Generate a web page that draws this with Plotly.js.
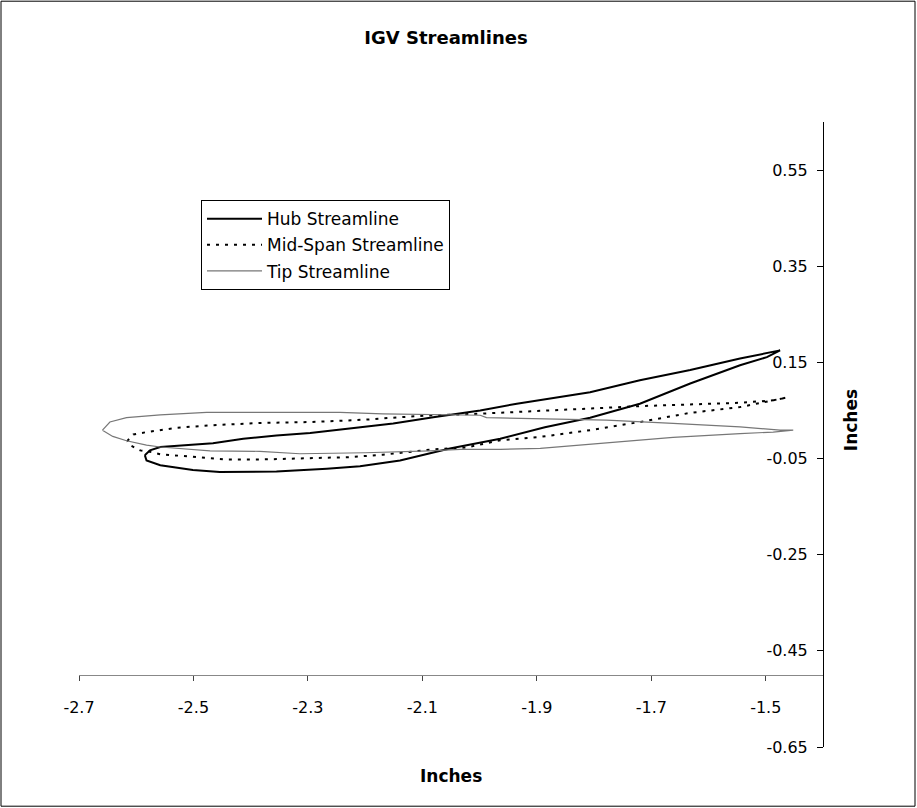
<!DOCTYPE html>
<html>
<head>
<meta charset="utf-8">
<script src="https://cdn.plot.ly/plotly-3.0.1.min.js"></script>
<style>
  html, body { margin: 0; padding: 0; background: #fff; }
  #chart { width: 917px; height: 808px; }
</style>
</head>
<body>
<div id="chart"></div>
<script>
// ---- data ----
const seriesNames = ["Hub Streamline", "Mid-Span Streamline", "Tip Streamline"];

const hubX = [-2.585, -2.576, -2.558, -2.512, -2.466, -2.413, -2.355, -2.296, -2.226, -2.151, -2.081, -1.999, -1.935, -1.877, -1.807, -1.720, -1.632, -1.545, -1.487, -1.475,
              -1.498, -1.545, -1.632, -1.720, -1.807, -1.886, -1.964, -2.052, -2.139, -2.209, -2.267, -2.355, -2.454, -2.501, -2.558, -2.582, -2.585];
const hubY = [-0.043, -0.033, -0.026, -0.022, -0.018, -0.009, -0.002, 0.003, 0.012, 0.023, 0.036, 0.050, 0.064, 0.075, 0.088, 0.113, 0.134, 0.158, 0.172, 0.175,
              0.161, 0.144, 0.106, 0.064, 0.035, 0.015, -0.009, -0.029, -0.054, -0.066, -0.071, -0.077, -0.078, -0.074, -0.064, -0.054, -0.043];

const midX = [-2.616, -2.605, -2.582, -2.529, -2.471, -2.384, -2.296, -2.197, -2.139, -2.081, -2.005, -1.964, -1.877, -1.807, -1.720, -1.632, -1.545, -1.487, -1.463,
              -1.545, -1.632, -1.720, -1.807, -1.894, -1.964, -2.023, -2.081, -2.169, -2.226, -2.314, -2.384, -2.442, -2.501, -2.558, -2.576, -2.593, -2.611, -2.616];
const midY = [-0.014, 0.000, 0.005, 0.014, 0.019, 0.024, 0.026, 0.031, 0.036, 0.040, 0.043, 0.045, 0.050, 0.054, 0.059, 0.063, 0.066, 0.071, 0.077,
              0.057, 0.045, 0.026, 0.009, -0.005, -0.012, -0.027, -0.031, -0.042, -0.047, -0.050, -0.052, -0.052, -0.047, -0.041, -0.036, -0.033, -0.022, -0.014];

const tipX = [-2.659, -2.646, -2.617, -2.558, -2.477, -2.361, -2.296, -2.244, -2.169, -2.087, -1.999, -1.988, -1.877, -1.778, -1.662, -1.545, -1.475, -1.452,
              -1.487, -1.545, -1.662, -1.778, -1.894, -1.964, -2.034, -2.087, -2.200, -2.314, -2.384, -2.471, -2.558, -2.582, -2.617, -2.641, -2.659];
const tipY = [0.009, 0.026, 0.035, 0.041, 0.046, 0.046, 0.046, 0.046, 0.043, 0.041, 0.040, 0.035, 0.033, 0.030, 0.023, 0.016, 0.009, 0.009,
              0.005, 0.002, -0.006, -0.018, -0.029, -0.031, -0.031, -0.034, -0.038, -0.040, -0.035, -0.034, -0.026, -0.022, -0.013, -0.004, 0.009];

const xTickVals = [-2.7, -2.5, -2.3, -2.1, -1.9, -1.7, -1.5];
const xTickText = ["-2.7", "-2.5", "-2.3", "-2.1", "-1.9", "-1.7", "-1.5"];
const yTickVals = [-0.65, -0.45, -0.25, -0.05, 0.15, 0.35, 0.55];
const yTickText = ["-0.65", "-0.45", "-0.25", "-0.05", "0.15", "0.35", "0.55"];

const chartTitle = "IGV Streamlines";
const xTitle = "Inches";
const yTitle = "Inches";

// ---- chart ----
const FONT = "DejaVu Sans, Liberation Sans, Arial, sans-serif";
const xRange = [-2.7, -1.4];
const yRange = [-0.65, 0.65];
const xAxisCrossY = -0.5;

const traces = [
  { x: hubX, y: hubY, name: seriesNames[0], legendgroup: "a",
    mode: "lines", type: "scatter", line: { color: "#000", width: 2 } },
  { x: midX, y: midY, name: seriesNames[1], legendgroup: "b",
    mode: "lines", type: "scatter", line: { color: "#000", width: 2, dash: "3px,6px" } },
  { x: tipX, y: tipY, name: seriesNames[2], legendgroup: "c",
    mode: "lines", type: "scatter", line: { color: "#777", width: 1.2 } }
];

const layout = {
  width: 917, height: 808,
  margin: { l: 79, r: 94, t: 122, b: 61 },
  paper_bgcolor: "#fff", plot_bgcolor: "#fff",
  font: { family: FONT, color: "#000", size: 16 },
  showlegend: true,
  title: { text: "<b>" + chartTitle + "</b>", font: { family: FONT, size: 18, color: "#000" },
           x: (446 - 79) / 744, xref: "paper", xanchor: "center", y: 1 - 38 / 808, yref: "container", yanchor: "middle" },
  xaxis: {
    range: xRange, anchor: "free",
    position: (xAxisCrossY - yRange[0]) / (yRange[1] - yRange[0]),
    side: "bottom",
    tickvals: xTickVals, ticktext: xTickText,
    ticks: "outside", ticklen: 5, tickcolor: "#444", tickwidth: 1,
    ticklabelstandoff: 12,
    showline: true, linecolor: "#888", linewidth: 1.5,
    showgrid: false, zeroline: false,
    tickfont: { family: FONT, size: 16, color: "#000" }
  },
  yaxis: {
    range: yRange, anchor: "free", position: 1, side: "left",
    tickvals: yTickVals, ticktext: yTickText,
    ticks: "outside", ticklen: 6, tickcolor: "#000", tickwidth: 1,
    ticklabelstandoff: 6,
    showline: true, linecolor: "#000", linewidth: 1,
    showgrid: false, zeroline: false,
    tickfont: { family: FONT, size: 16, color: "#000" }
  },
  legend: {
    x: (201 - 79) / 744, y: (746.8 - 200) / 625, xanchor: "left", yanchor: "top",
    bgcolor: "#fff", bordercolor: "#000", borderwidth: 1,
    font: { family: FONT, size: 17, color: "#000" },
    traceorder: "grouped", tracegroupgap: 1, itemwidth: 55
  },
  annotations: [
    { text: "<b>" + xTitle + "</b>", xref: "paper", yref: "paper", x: (451 - 79) / 744, y: (746.8 - 776) / 625,
      xanchor: "center", yanchor: "middle", showarrow: false, font: { family: FONT, size: 17, color: "#000" } },
    { text: "<b>" + yTitle + "</b>", xref: "paper", yref: "paper", x: (851 - 79) / 744, y: (746.8 - 420) / 625,
      xanchor: "center", yanchor: "middle", textangle: -90, showarrow: false, font: { family: FONT, size: 17, color: "#000" } }
  ],
  shapes: [
    { type: "rect", xref: "paper", yref: "paper",
      x0: (1 - 79) / 744, x1: (915 - 79) / 744, y0: (746.8 - 806) / 625, y1: (746.8 - 1) / 625,
      line: { color: "#000", width: 1 }, fillcolor: "rgba(0,0,0,0)", layer: "below" }
  ]
};

Plotly.newPlot("chart", traces, layout, { displayModeBar: false, staticPlot: true });
</script>
</body>
</html>
